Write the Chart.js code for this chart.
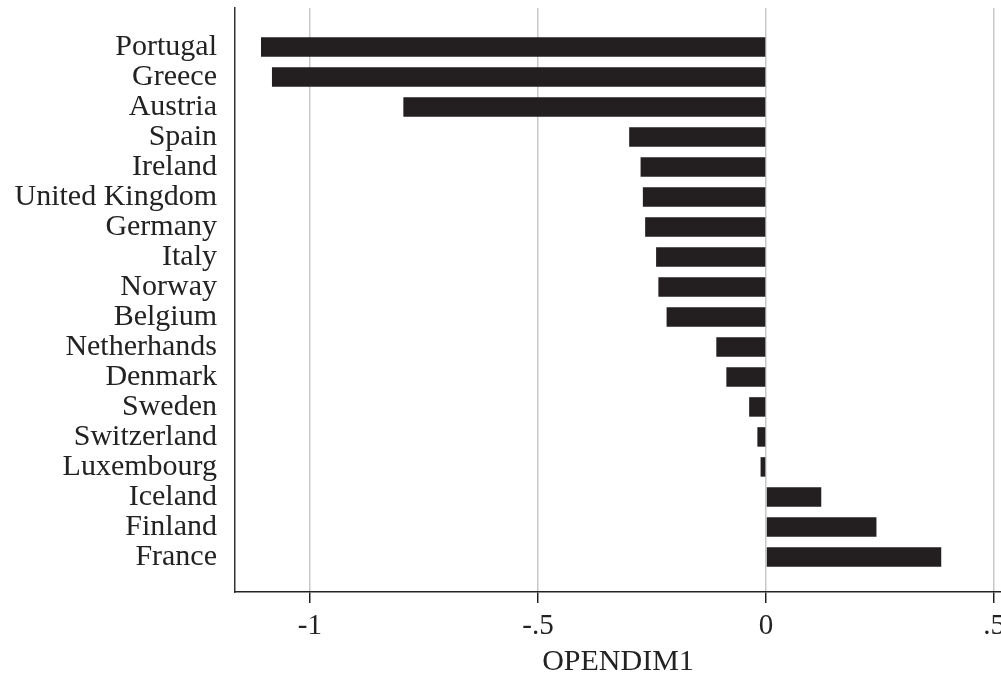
<!DOCTYPE html>
<html>
<head>
<meta charset="utf-8">
<script src="https://cdn.jsdelivr.net/npm/chart.js@4/dist/chart.umd.min.js"></script>
<style>
  html, body { margin: 0; padding: 0; background: #ffffff; }
  #wrap { width: 1001px; height: 680px; }
</style>
</head>
<body>
<div id="wrap"><canvas id="c" width="1001" height="680"></canvas></div>
<script>
// Countries, top to bottom
const countries = [
  'Portugal', 'Greece', 'Austria', 'Spain', 'Ireland', 'United Kingdom',
  'Germany', 'Italy', 'Norway', 'Belgium', 'Netherhands', 'Denmark',
  'Sweden', 'Switzerland', 'Luxembourg', 'Iceland', 'Finland', 'France'
];

// OPENDIM1 score per country
const opendim1 = [
  -1.107, -1.083, -0.795, -0.300, -0.275, -0.270,
  -0.265, -0.241, -0.236, -0.218, -0.109, -0.087,
  -0.037, -0.019, -0.012, 0.121, 0.242, 0.384
];

// x-axis ticks and their printed labels
const xTickValues = [-1, -0.5, 0, 0.5];
const xTickLabels = ['-1', '-.5', '0', '.5'];

const serif = '"Liberation Serif", "Times New Roman", serif';
const ink = '#231f20';

const points = countries.map((name, i) => ({ x: opendim1[i], y: i }));

new Chart(document.getElementById('c'), {
  type: 'bar',
  data: {
    datasets: [{
      data: points,
      backgroundColor: ink,
      borderWidth: 0,
      barPercentage: 0.65,
      categoryPercentage: 1.0
    }]
  },
  options: {
    indexAxis: 'y',
    responsive: false,
    animation: false,
    devicePixelRatio: 1,
    layout: { padding: { top: 8, right: 0, left: 0, bottom: 0 } },
    plugins: {
      legend: { display: false },
      tooltip: { enabled: false }
    },
    scales: {
      x: {
        type: 'linear',
        bounds: 'data',
        min: -1.164,
        max: 0.515,
        afterBuildTicks: (scale) => {
          scale.ticks = xTickValues.map(v => ({ value: v }));
        },
        afterFit: (scale) => {
          scale.height = 88;
          scale.paddingLeft = 0;
          scale.paddingRight = 0;
        },
        ticks: {
          autoSkip: false,
          maxRotation: 0,
          padding: 6,
          color: '#222222',
          font: { family: serif, size: 29 },
          callback: (v) => {
            const k = xTickValues.indexOf(v);
            return k >= 0 ? xTickLabels[k] : '';
          }
        },
        grid: {
          color: '#c8c8c8',
          lineWidth: 1.5,
          drawTicks: true,
          tickLength: 11,
          tickColor: '#222222',
          tickWidth: 1.5
        },
        border: { display: true, color: '#222222', width: 1.5 },
        title: {
          display: true,
          text: 'OPENDIM1',
          color: '#222222',
          font: { family: serif, size: 30 },
          padding: { top: 2, bottom: 0 }
        }
      },
      y: {
        type: 'linear',
        reverse: true,
        offset: false,
        bounds: 'data',
        min: -1.3,
        max: 18.17,
        afterBuildTicks: (scale) => {
          scale.ticks = countries.map((_, i) => ({ value: i }));
        },
        afterFit: (scale) => {
          scale.width = 235;
          scale.paddingTop = 0;
          scale.paddingBottom = 0;
        },
        ticks: {
          autoSkip: false,
          padding: 18,
          color: '#222222',
          font: { family: serif, size: 30 },
          callback: (v) => countries[v] !== undefined ? countries[v] : ''
        },
        grid: { display: false, drawTicks: false },
        border: { display: true, color: '#333333', width: 1.5 }
      }
    }
  }
});
</script>
</body>
</html>
